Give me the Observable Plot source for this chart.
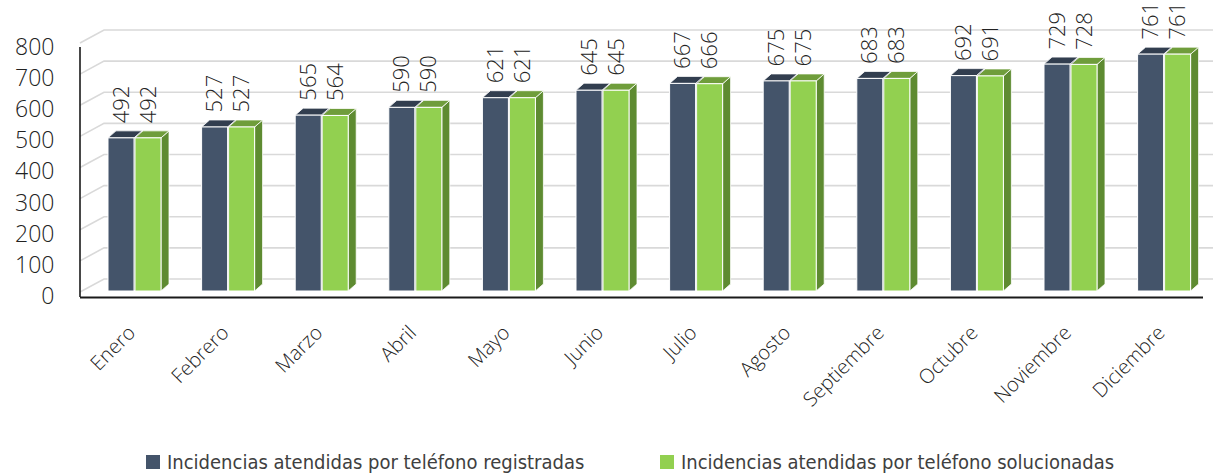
<!DOCTYPE html>
<html>
<head>
<meta charset="utf-8">
<script src="https://cdn.jsdelivr.net/npm/d3@7"></script>
<script src="https://cdn.jsdelivr.net/npm/@observablehq/plot@0.6"></script>
<style>
  html, body { margin: 0; padding: 0; background: #fff; }
  #wrap { position: relative; width: 1213px; height: 476px; overflow: hidden; }
  #legend { position: relative; width: 1213px; height: 36px; font-family: "Liberation Sans Narrow", "DejaVu Sans Condensed", sans-serif; font-size: 20px; color: #404040; }
  .item { position: absolute; top: 10px; display: flex; align-items: center; white-space: nowrap; }
  .sw { width: 14px; height: 14px; margin-right: 7px; }
</style>
</head>
<body>
<div id="wrap"><div id="chart"></div><div id="legend"></div></div>
<script>
// ---- data ----
const months = ["Enero", "Febrero", "Marzo", "Abril", "Mayo", "Junio", "Julio", "Agosto", "Septiembre", "Octubre", "Noviembre", "Diciembre"];
const registradas = [492, 527, 565, 590, 621, 645, 667, 675, 683, 692, 729, 761];
const solucionadas = [492, 527, 564, 590, 621, 645, 666, 675, 683, 691, 728, 761];
const seriesNames = ["Incidencias atendidas por teléfono registradas", "Incidencias atendidas por teléfono solucionadas"];
const yTicks = [0, 100, 200, 300, 400, 500, 600, 700, 800];

// ---- styles ----
const palette = [
  {front: "#44546a", top: "#323e4f", side: "#2b3543"},
  {front: "#92d050", top: "#6f9d3b", side: "#5e8b31"}
];
const barW = 26, gap = 0.5, depthX = 8, depthY = 7;
const fontNum = "'Open Sans', 'DejaVu Sans', sans-serif";

const data = [];
months.forEach((m, i) => {
  data.push({month: m, s: 0, value: registradas[i]});
  data.push({month: m, s: 1, value: solucionadas[i]});
});

function center(sx, m) {
  const bw = typeof sx.bandwidth === "function" ? sx.bandwidth() : (sx.bandwidth || 0);
  return sx(m) + bw / 2;
}

const gridMark = Plot.barY(yTicks.slice(0, 1), {
  x: () => months[0], y: d => d,
  render: (index, scales, values, dim) => {
    const sy = scales.y;
    const g = d3.create("svg:g");
    const x0 = dim.marginLeft;
    for (const v of yTicks) {
      const yv = sy(v);
      g.append("path")
        .attr("d", `M${x0},${yv + 1}L${x0 + 24},${yv - 12}L${dim.width},${yv - 12}`)
        .attr("fill", "none").attr("stroke", "#d9d9d9").attr("stroke-width", 1.6);
    }
    g.append("line")
      .attr("x1", x0).attr("x2", x0)
      .attr("y1", sy(yTicks[yTicks.length - 1]) + 5).attr("y2", sy(0) + 6)
      .attr("stroke", "#1a1a1a").attr("stroke-width", 1.6);
    return g.node();
  }
});

const barsMark = Plot.barY(data, {
  x: "month", y: "value",
  render: (index, scales) => {
    const sx = scales.x, sy = scales.y;
    const g = d3.create("svg:g");
    for (const i of index) {
      const d = data[i];
      const c = center(sx, d.month);
      const x1 = d.s === 0 ? c - gap - barW : c + gap;
      const x2 = x1 + barW;
      const yt = sy(d.value), yb = sy(0);
      const col = palette[d.s];
      g.append("polygon")
        .attr("points", `${x2},${yt} ${x2 + depthX},${yt - depthY} ${x2 + depthX},${yb - depthY} ${x2},${yb}`)
        .attr("fill", col.side).attr("stroke", "#fff").attr("stroke-width", 0.8);
      g.append("polygon")
        .attr("points", `${x1},${yt} ${x1 + depthX},${yt - depthY} ${x2 + depthX},${yt - depthY} ${x2},${yt}`)
        .attr("fill", col.top).attr("stroke", "#fff").attr("stroke-width", 0.8);
      g.append("rect")
        .attr("x", x1).attr("y", yt).attr("width", barW).attr("height", yb - yt)
        .attr("fill", col.front).attr("stroke", "#fff").attr("stroke-width", 1);
    }
    return g.node();
  }
});

const valueLabels = [0, 1].map(s => Plot.text(data.filter(d => d.s === s), {
  x: "month", y: "value", text: d => String(d.value),
  dx: s === 0 ? -(gap + barW / 2) : (gap + barW / 2), dy: -15,
  rotate: -90, textAnchor: "start", lineAnchor: "middle",
  fontSize: 22, fill: "#222", fontWeight: 300
}));

const chart = Plot.plot({
  width: 1213,
  height: 440,
  marginLeft: 80,
  marginRight: 10,
  marginTop: 30,
  marginBottom: 143,
  x: {type: "band", domain: months, range: [87.7, 1210.9], padding: 0, round: false, axis: null},
  y: {domain: [0, 800], range: [291, 42], axis: null},
  style: {fontFamily: fontNum, background: "#fff"},
  marks: [
    gridMark,
    Plot.ruleY([0], {dy: 6, stroke: "#1a1a1a", strokeWidth: 2}),
    barsMark,
    Plot.axisY({ticks: yTicks, tickSize: 0, tickPadding: 26, dy: 5, fontSize: 23, fill: "#222", label: null, fontWeight: 300}),
    ...valueLabels,
    Plot.text(months, {
      x: d => d, frameAnchor: "bottom", dy: 32, dx: -3,
      rotate: -45, textAnchor: "end", lineAnchor: "middle",
      fontSize: 20, fill: "#222", fontWeight: 300
    })
  ]
});
document.getElementById("chart").appendChild(chart);

// legend
const legend = document.getElementById("legend");
const lefts = [146, 660];
seriesNames.forEach((n, i) => {
  const it = document.createElement("div");
  it.className = "item";
  it.style.left = lefts[i] + "px";
  it.innerHTML = `<span class="sw" style="background:${palette[i].front}"></span><span>${n}</span>`;
  legend.appendChild(it);
});
</script>
</body>
</html>
